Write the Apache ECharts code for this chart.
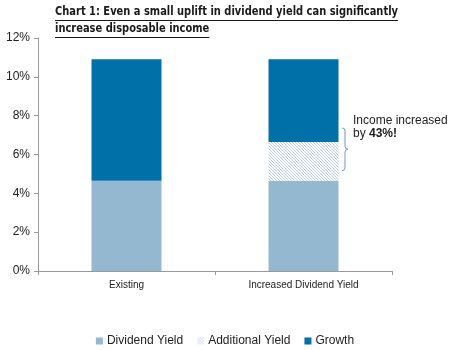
<!DOCTYPE html>
<html><head><meta charset="utf-8">
<script src="https://cdn.jsdelivr.net/npm/echarts@6/dist/echarts.min.js"></script>
<style>html,body{margin:0;padding:0;background:#fff}#c{width:450px;height:350px}</style>
</head><body><div id="c"></div>
<script>
var categories = ['Existing', 'Increased Dividend Yield'];
var dividendYield = [4.65, 4.65];
var additionalYield = [0, 2.0];
var growth = [6.25, 4.25];
var yTicks = [0, 2, 4, 6, 8, 10, 12];
var titleLines = ['Chart 1: Even a small uplift in dividend yield can significantly', 'increase disposable income'];

function makePattern() {
  var c = document.createElement('canvas');
  c.width = 3; c.height = 3;
  var g = c.getContext('2d');
  g.fillStyle = '#ffffff'; g.fillRect(0, 0, 3, 3);
  g.fillStyle = '#b9cfea';
  g.fillRect(0, 0, 1, 1); g.fillRect(1, 1, 1, 1); g.fillRect(2, 2, 1, 1);
  return c;
}
var pattern = { image: makePattern(), repeat: 'repeat' };

var titleFont = 'bold 12px "DejaVu Sans Condensed", "Liberation Sans Narrow", sans-serif';
var mc = document.createElement('canvas').getContext('2d');
mc.font = titleFont;
var w1 = mc.measureText(titleLines[0]).width;
var w2 = mc.measureText(titleLines[1]).width;
var sx = 343 / w1;

var chart = echarts.init(document.getElementById('c'), null, { renderer: 'canvas' });
var option = {
  animation: false,
  textStyle: { fontFamily: 'Arial, "Liberation Sans", sans-serif' },
  grid: { left: 38, right: 58, top: 38, bottom: 79 },
  legend: {
    top: 330, left: 'center',
    itemWidth: 7, itemHeight: 7, itemGap: 14,
    icon: 'rect',
    textStyle: { fontSize: 12, color: '#222', padding: [0, 0, 0, -1] },
    data: ['Dividend Yield', 'Additional Yield', 'Growth']
  },
  xAxis: {
    type: 'category', data: categories,
    axisLine: { lineStyle: { color: '#999' } },
    axisTick: { show: true, length: 4, lineStyle: { color: '#999' } },
    axisLabel: { fontSize: 10, color: '#222', margin: 9 }
  },
  yAxis: {
    type: 'value', min: 0, max: 12, interval: 2,
    axisLine: { show: true, lineStyle: { color: '#999' } },
    axisTick: { show: true, length: 4, inside: false, lineStyle: { color: '#999' } },
    splitLine: { show: false },
    axisLabel: { fontSize: 12, color: '#222', margin: 8, formatter: function (v) { return v + '%'; } }
  },
  series: [
    { name: 'Dividend Yield', type: 'bar', stack: 's', data: dividendYield, barWidth: 70, itemStyle: { color: '#93b8cf' } },
    { name: 'Additional Yield', type: 'bar', stack: 's', data: additionalYield, barWidth: 70, itemStyle: { color: pattern } },
    { name: 'Growth', type: 'bar', stack: 's', data: growth, barWidth: 70, itemStyle: { color: '#0071a8' } }
  ]
};
chart.setOption(option);

var bottomPt = chart.convertToPixel({ gridIndex: 0 }, [1, dividendYield[1]]);
var topPt = chart.convertToPixel({ gridIndex: 0 }, [1, dividendYield[1] + additionalYield[1]]);
var bx = bottomPt[0] + 35 + 3.5;
var y1 = topPt[1] - 14, y2 = bottomPt[1] - 10, ym = (y1 + y2) / 2;
var braceStyle = { stroke: '#6d96c8', lineWidth: 1, fill: null };
var ax = bx + 3;

chart.setOption({
  graphic: [
    { type: 'text', x: 55, y: 6, scaleX: sx, style: { text: titleLines[0], font: titleFont, fill: '#1a1a1a' } },
    { type: 'text', x: 55, y: 23, scaleX: sx, style: { text: titleLines[1], font: titleFont, fill: '#1a1a1a' } },
    { type: 'rect', shape: { x: 55, y: 20, width: w1 * sx, height: 1 }, style: { fill: '#1a1a1a' } },
    { type: 'rect', shape: { x: 55, y: 37, width: w2 * sx, height: 1 }, style: { fill: '#1a1a1a' } },
    { type: 'bezierCurve', shape: { x1: bx, y1: y1, x2: ax, y2: y1 + 3, cpx1: ax, cpy1: y1 }, style: braceStyle },
    { type: 'line', shape: { x1: ax, y1: y1 + 3, x2: ax, y2: ym - 3 }, style: braceStyle },
    { type: 'bezierCurve', shape: { x1: ax, y1: ym - 3, x2: ax + 3, y2: ym, cpx1: ax, cpy1: ym }, style: braceStyle },
    { type: 'bezierCurve', shape: { x1: ax + 3, y1: ym, x2: ax, y2: ym + 3, cpx1: ax, cpy1: ym }, style: braceStyle },
    { type: 'line', shape: { x1: ax, y1: ym + 3, x2: ax, y2: y2 - 3 }, style: braceStyle },
    { type: 'bezierCurve', shape: { x1: ax, y1: y2 - 3, x2: bx, y2: y2, cpx1: ax, cpy1: y2 }, style: braceStyle },
    { type: 'text', x: bx + 11, y: y1 - 14, style: {
        text: '{n|Income increased}\n{n|by }{b|43%!}',
        rich: {
          n: { fontSize: 12, fontFamily: 'Arial, "Liberation Sans", sans-serif', fill: '#222', lineHeight: 13 },
          b: { fontSize: 12, fontWeight: 'bold', fontFamily: 'Arial, "Liberation Sans", sans-serif', fill: '#222', lineHeight: 13 }
        } } }
  ]
});
</script></body></html>
